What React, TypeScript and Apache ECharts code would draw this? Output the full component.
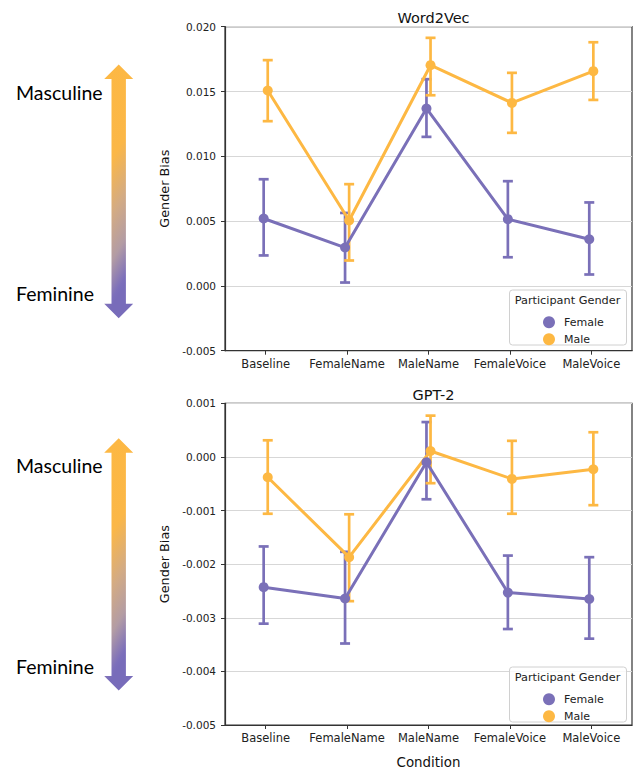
import React, { useEffect, useRef } from "react";
import * as echarts from "echarts";

const categories = ["Baseline", "FemaleName", "MaleName", "FemaleVoice", "MaleVoice"];
const legendNames = ["Female", "Male"];

// Word2Vec
const w2vFemaleMean = [0.0052, 0.00296, 0.01369, 0.00515, 0.0036];
const w2vFemaleLow = [0.00235, 0.00026, 0.0115, 0.00221, 0.00088];
const w2vFemaleHigh = [0.00823, 0.00563, 0.01595, 0.00808, 0.00644];
const w2vMaleMean = [0.01508, 0.00505, 0.01703, 0.01412, 0.01657];
const w2vMaleLow = [0.01271, 0.00196, 0.01471, 0.01181, 0.01435];
const w2vMaleHigh = [0.01742, 0.00785, 0.01914, 0.01644, 0.0188];

// GPT-2
const gptFemaleMean = [-0.00243, -0.00264, -0.0001, -0.00253, -0.00265];
const gptFemaleLow = [-0.00311, -0.00348, -0.00079, -0.00321, -0.00339];
const gptFemaleHigh = [-0.00167, -0.00177, 0.00065, -0.00184, -0.00187];
const gptMaleMean = [-0.00038, -0.00187, 0.00011, -0.00041, -0.00023];
const gptMaleLow = [-0.00106, -0.00269, -0.00049, -0.00106, -0.0009];
const gptMaleHigh = [0.00031, -0.00107, 0.00077, 0.0003, 0.00046];

const PURPLE = "#7a70b8";
const ORANGE = "#fdb843";
const FONT = "DejaVu Sans";
const DODGE = 0.025;

function lineSeries(name: string, mean: number[], off: number, color: string, xi: number, yi: number) {
  return {
    type: "line",
    name,
    xAxisIndex: xi,
    yAxisIndex: yi,
    data: mean.map((v, i) => [i + off, v]),
    symbol: "circle",
    symbolSize: 10,
    showSymbol: true,
    lineStyle: { color, width: 3 },
    itemStyle: { color },
    z: 3,
  };
}

function errSeries(name: string, lo: number[], hi: number[], off: number, color: string, xi: number, yi: number) {
  return {
    type: "custom",
    name,
    xAxisIndex: xi,
    yAxisIndex: yi,
    data: lo.map((v, i) => [i + off, v, hi[i]]),
    encode: { x: 0, y: [1, 2] },
    z: 3,
    renderItem: (params: any, api: any) => {
      const x = api.value(0);
      const p1 = api.coord([x, api.value(2)]);
      const p2 = api.coord([x, api.value(1)]);
      const w = 5;
      const st = { stroke: color, lineWidth: 2.7 };
      return {
        type: "group",
        children: [
          { type: "line", shape: { x1: p1[0], y1: p1[1], x2: p2[0], y2: p2[1] }, style: st },
          { type: "line", shape: { x1: p1[0] - w, y1: p1[1], x2: p1[0] + w, y2: p1[1] }, style: st },
          { type: "line", shape: { x1: p2[0] - w, y1: p2[1], x2: p2[0] + w, y2: p2[1] }, style: st },
        ],
      };
    },
  };
}

function arrow(top: number, bottom: number) {
  const cx = 118.7;
  const hw = 14.5;
  const sw = 7.2;
  const hh = 14.5;
  const pts = [
    [cx, top],
    [cx + hw, top + hh],
    [cx + sw, top + hh],
    [cx + sw, bottom - hh],
    [cx + hw, bottom - hh],
    [cx, bottom],
    [cx - hw, bottom - hh],
    [cx - sw, bottom - hh],
    [cx - sw, top + hh],
    [cx - hw, top + hh],
  ];
  const L = bottom - top;
  const dy = L * 0.3;
  const dx = L * 0.5;
  const s = (L * dy) / (dx * dx + dy * dy);
  return {
    type: "polygon",
    shape: { points: pts },
    style: {
      fill: new echarts.graphic.LinearGradient(
        cx - 14,
        top,
        cx - 14 + dx * s,
        top + dy * s,
        [
          { offset: 0, color: "#fdb843" },
          { offset: 0.42, color: "#fbb747" },
          { offset: 0.64, color: "#d3ab84" },
          { offset: 0.82, color: "#b39ca4" },
          { offset: 0.97, color: "#7c6fbb" },
          { offset: 1, color: "#786cba" },
        ],
        true
      ),
    },
  };
}

function sideText(text: string, y: number) {
  return {
    type: "text",
    x: 16,
    y,
    style: { text, fill: "#000", font: "19.5px Lato", textVerticalAlign: "middle", textAlign: "left" },
  };
}

function legendBox(top: number) {
  return [
    {
      type: "rect",
      shape: { x: 509.5, y: top, width: 117, height: 55, r: 3 },
      style: { fill: "rgba(255,255,255,0.85)", stroke: "#d0d0d0", lineWidth: 1 },
      z: 8,
    },
    {
      type: "text",
      x: 567.5,
      y: top + 10,
      z: 9,
      style: {
        text: "Participant Gender",
        fill: "#222",
        font: `11.3px '${FONT}'`,
        textAlign: "center",
        textVerticalAlign: "middle",
      },
    },
  ];
}

function yAxis(gi: number, min: number, max: number, interval: number) {
  return {
    type: "value",
    gridIndex: gi,
    min,
    max,
    interval,
    name: "Gender Bias",
    nameLocation: "middle",
    nameGap: 52,
    nameTextStyle: { fontFamily: FONT, fontSize: 12.8, color: "#111" },
    axisLine: { show: true, onZero: false, lineStyle: { color: "#333", width: 1.2 } },
    axisTick: { show: true, length: 4, lineStyle: { color: "#333" } },
    axisLabel: {
      fontFamily: FONT,
      fontSize: 10.5,
      color: "#222",
      margin: 9,
      formatter: (v: number) => v.toFixed(3),
    },
    splitLine: { show: true, lineStyle: { color: "#d7d7d7", width: 1 } },
  };
}

function catAxis(gi: number, name?: string) {
  return {
    type: "category",
    gridIndex: gi,
    data: categories,
    boundaryGap: true,
    name: name || "",
    nameLocation: "middle",
    nameGap: 31,
    nameTextStyle: { fontFamily: FONT, fontSize: 13.4, color: "#111" },
    axisLine: { show: true, onZero: false, lineStyle: { color: "#333", width: 1.2 } },
    axisTick: { show: true, alignWithLabel: true, length: 4, lineStyle: { color: "#333" } },
    axisLabel: { fontFamily: FONT, fontSize: 11.5, color: "#222", margin: 7, interval: 0 },
    splitLine: { show: false },
  };
}

function valX(gi: number) {
  return {
    type: "value",
    gridIndex: gi,
    min: -0.5,
    max: 4.5,
    show: false,
    axisLine: { onZero: false },
    splitLine: { show: false },
  };
}

function legend(top: number) {
  return {
    data: legendNames,
    orient: "vertical",
    left: 538,
    top,
    icon: "circle",
    itemWidth: 12,
    itemHeight: 12,
    itemGap: 5,
    selectedMode: false,
    z: 10,
    textStyle: { fontFamily: FONT, fontSize: 11, color: "#222", padding: [0, 0, 0, 4] },
  };
}

export default function App() {
  const ref = useRef<HTMLDivElement>(null);
  useEffect(() => {
    if (!ref.current) return;
    const chart = echarts.init(ref.current, undefined, { renderer: "svg" });
    chart.setOption({
      animation: false,
      backgroundColor: "#fff",
      title: [
        {
          text: "Word2Vec",
          left: 428.5,
          top: 5,
          textAlign: "center",
          textStyle: { fontFamily: FONT, fontSize: 14.5, fontWeight: "normal", color: "#111" },
        },
        {
          text: "GPT-2",
          left: 428.5,
          top: 382,
          textAlign: "center",
          textStyle: { fontFamily: FONT, fontSize: 14.5, fontWeight: "normal", color: "#111" },
        },
      ],
      grid: [
        { left: 225, top: 26.7, width: 407, height: 324, show: true, borderColor: "#333", borderWidth: 1.2, containLabel: false },
        { left: 225, top: 403.3, width: 407, height: 325, show: true, borderColor: "#333", borderWidth: 1.2, containLabel: false },
      ],
      xAxis: [catAxis(0), valX(0), catAxis(1, "Condition"), valX(1)],
      yAxis: [yAxis(0, -0.005, 0.02, 0.005), yAxis(1, -0.005, 0.001, 0.001)],
      legend: [legend(311.3), legend(688.3)],
      series: [
        lineSeries("Female", w2vFemaleMean, -DODGE, PURPLE, 1, 0),
        errSeries("Female", w2vFemaleLow, w2vFemaleHigh, -DODGE, PURPLE, 1, 0),
        lineSeries("Male", w2vMaleMean, DODGE, ORANGE, 1, 0),
        errSeries("Male", w2vMaleLow, w2vMaleHigh, DODGE, ORANGE, 1, 0),
        lineSeries("Female", gptFemaleMean, -DODGE, PURPLE, 3, 1),
        errSeries("Female", gptFemaleLow, gptFemaleHigh, -DODGE, PURPLE, 3, 1),
        lineSeries("Male", gptMaleMean, DODGE, ORANGE, 3, 1),
        errSeries("Male", gptMaleLow, gptMaleHigh, DODGE, ORANGE, 3, 1),
      ],
      graphic: [
        arrow(64.5, 318.3),
        arrow(438.3, 690.5),
        sideText("Masculine", 92),
        sideText("Feminine", 293),
        sideText("Masculine", 465),
        sideText("Feminine", 666),
        ...legendBox(290),
        ...legendBox(667),
      ],
    });
    return () => chart.dispose();
  }, []);
  return (
    <div
      ref={ref}
      style={{ position: "fixed", left: 0, top: 0, width: 637, height: 770, background: "#fff" }}
    />
  );
}
